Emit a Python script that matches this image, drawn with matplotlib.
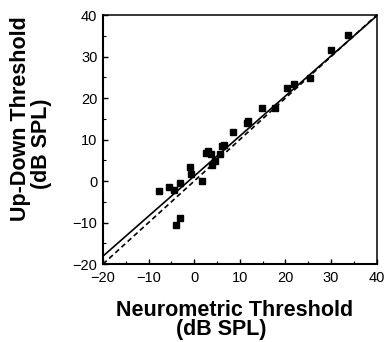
import matplotlib.pyplot as plt
import numpy as np
from matplotlib.ticker import MultipleLocator

plt.rcParams['font.family'] = ['Liberation Sans', 'DejaVu Sans']

# neurometric vs up-down thresholds (dB SPL)
neuro = [-7.8, -5.5, -4.4, -3.1, -4.0, -3.1, -0.9, -0.7, 1.8, 2.6, 3.1, 3.6,
         3.8, 4.6, 5.7, 6.0, 6.5, 8.4, 11.5, 11.8, 14.9, 17.7, 20.4, 21.9,
         25.4, 30.0, 33.8]
updown = [-2.3, -1.5, -2.1, -0.5, -10.5, -9.0, 3.4, 1.6, 0.0, 6.7, 7.2, 6.4,
          3.8, 4.8, 6.4, 8.4, 8.6, 11.7, 13.9, 14.5, 17.5, 17.5, 22.4, 23.3,
          24.9, 31.6, 35.2]

# regression line (solid) and identity line (dashed)
fit_slope = 0.965
fit_icpt = 1.2
line_x = [-20, 40]

W, H = 385, 342
fig = plt.figure(figsize=(W / 100, H / 100), dpi=100)
ax = fig.add_axes([0.2675, 0.228, 0.711, 0.728])

ax.plot(neuro, updown, 's', color='black', ms=5, zorder=3)
ax.plot(line_x, [fit_slope * v + fit_icpt for v in line_x], '-', color='black', lw=1.2)
ax.plot(line_x, line_x, '--', color='black', lw=1.2, dashes=(3, 2))

ax.set_xlim(-20, 40)
ax.set_ylim(-20, 40)
ax.xaxis.set_major_locator(MultipleLocator(10))
ax.yaxis.set_major_locator(MultipleLocator(10))
ax.xaxis.set_minor_locator(MultipleLocator(5))
ax.yaxis.set_minor_locator(MultipleLocator(5))
ax.tick_params(which='both', direction='in', top=False, right=False, labelsize=10.5)
ax.tick_params(which='major', length=3.5, width=1)
ax.tick_params(which='minor', length=2, width=0.8)
ax.tick_params(axis='x', pad=5)
ax.tick_params(axis='y', pad=4)

for s in ['left', 'bottom']:
    ax.spines[s].set_linewidth(1.5)
for s in ['top', 'right']:
    ax.spines[s].set_linewidth(1.1)

# axis titles, placed line by line as in the original
lab = dict(fontsize=15.5, fontweight='bold', ha='center', va='center')
fig.text(235 / W, 1 - 311 / H, 'Neurometric Threshold', **lab)
fig.text(221 / W, 1 - 330 / H, '(dB SPL)', **lab)
fig.text(21 / W, 1 - 119 / H, 'Up-Down Threshold', rotation=90, **lab)
fig.text(42 / W, 1 - 144 / H, '(dB SPL)', rotation=90, **lab)

plt.savefig('out.png', dpi=100)
